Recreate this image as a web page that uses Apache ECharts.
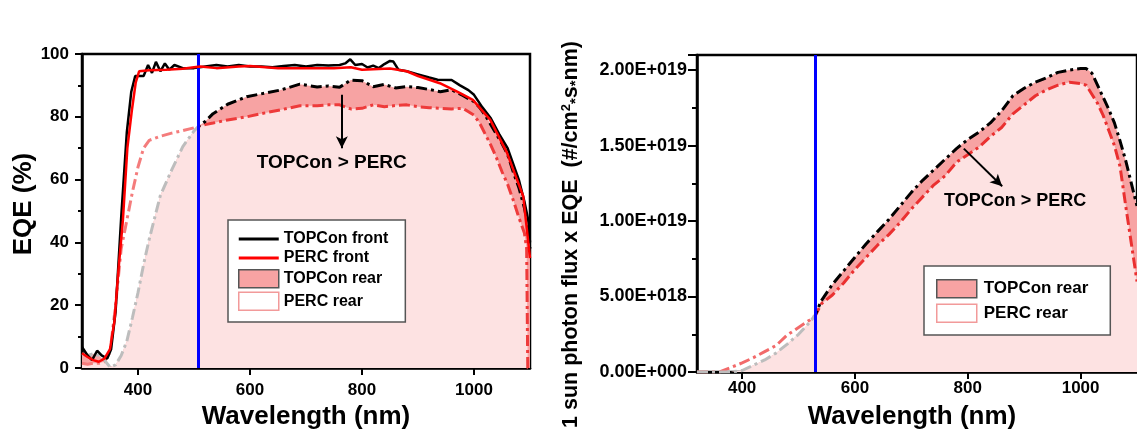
<!DOCTYPE html>
<html><head><meta charset="utf-8">
<script src="https://cdn.jsdelivr.net/npm/echarts@6/dist/echarts.min.js"></script>
<style>html,body{margin:0;padding:0;background:#fff}#c{width:1137px;height:435px}</style>
</head><body><div id="c"></div>
<script>
// ---------- Left panel: EQE (%) ----------
const wlTopconFront = [300,310,318,327,335,345,352,360,370,380,388,395,400,410,418,425,432,440,448,456,465,480,500,520,540,560,580,600,620,640,660,680,700,720,740,760,770,779,788,800,810,820,830,840,850,856,865,880,900,920,935,960,975,990,1000,1015,1030,1045,1060,1070,1080,1090,1097,1100];
const eqeTopconFront = [6.7,4,2.5,5.5,4,3,6,18,48,75,88,93,93,93,96.5,94,97.5,94.5,97,95,96.5,95.5,95.5,96,96.5,96,96.5,96,96,95.8,96.2,96.5,96,96.5,96.3,96.5,97,98.3,96.5,96.8,95.7,96.3,95.5,96.8,97.8,97.6,95,94.5,93.5,92.5,91.8,91.7,90,88.5,87,83,79.5,74.5,70,65,60,53,47,40];

const wlPercFront = [300,310,320,330,340,350,358,365,373,381,389,396,402,420,450,480,500,511,540,580,600,650,700,750,780,800,850,880,900,939,970,998,1029,1059,1088,1100];
const eqePercFront = [4.7,3.5,2.5,2,3,6,15,31,47,70,82,91,94.5,94.8,95,95.3,95.8,96,95.5,96,96.2,95.5,95.5,95.5,95.8,95,95.4,94.5,93,90.7,88,85.4,79,68.5,54.6,35];

const wlRearLeft = [300,310,320,330,340,350,360,370,380,390,400,410,420,440,460,480,500,508,520,534,560,594,620,654,689,720,740,760,780,800,820,840,860,880,900,920,940,960,980,1000,1010,1020,1030,1040,1050,1060,1070,1080,1090,1094,1096,1100];
const eqeTopconRear = [4.5,4,4.5,4,2.5,0.3,1,4,8.5,16,24,33,41,55,63,70.5,75.5,77,78.5,81,84,86.4,87.3,88.5,90.4,89.5,89.8,89.4,91.7,91.5,89.6,90.3,89.2,89.6,89.3,88.7,88,88.6,86.8,84.8,83,80.5,77.5,74.5,71.5,68,62.5,57.5,51,47.5,45,38];
const eqePercRear = [1.5,1.2,1.5,1.5,2,5,20,38,47,56,64,70,72.5,73.8,74.8,75.6,76.5,77,77.5,78,79,80,81,82.2,83.5,83.5,83.8,83.8,82.5,82.7,83.8,83.2,83.6,83.8,83.2,82.9,82.7,82.5,82.7,80.5,78,74.5,71,67,62.5,58.5,53.5,48,43,38,0,0];

// ---------- Right panel: photon flux x EQE (units of 1E+018) ----------
const wlRearRight = [320,340,360,380,400,420,440,460,480,500,520,530,540,560,580,600,620,640,660,680,700,720,740,760,780,800,820,840,860,880,900,920,940,960,980,1000,1010,1020,1030,1040,1050,1060,1070,1080,1090,1100];
const fluxTopconRear = [0,0,0,0,0.1,0.45,0.8,1.25,1.85,2.5,3.3,3.8,4.7,5.8,6.7,7.6,8.5,9.3,10.1,11.0,11.9,12.7,13.4,14.1,14.8,15.4,15.9,16.5,17.3,18.3,18.8,19.2,19.5,19.85,20.0,20.1,20.1,19.8,19.0,18.2,17.4,16.5,15.3,14.0,12.5,11.0];
const fluxPercRear = [0,0,0,0.3,0.6,0.95,1.35,1.75,2.45,2.95,3.45,3.75,4.5,5.1,5.9,6.8,7.6,8.4,9.1,9.9,10.8,11.6,12.4,13.0,13.9,14.4,14.9,15.6,16.2,17.1,17.7,18.3,18.7,19.0,19.2,19.1,19.0,18.4,17.8,17.0,16.0,15.0,13.6,11.0,8.5,6.0];

// ---------- Axis ticks, markers, annotations ----------
const xTicks = [400, 600, 800, 1000];
const yTicksRight = [0, 5, 10, 15, 20];
const blueLineLeft = 508;
const blueLineRight = 530;
const arrowLeft = [[764, 87], [764, 70]];
const noteLeft = [746, 65.3];
const arrowRight = [[793, 14.8], [861, 12.3]];
const noteRight = [884, 11.3];
const noteText = 'TOPCon > PERC';

const FONT = "'Liberation Sans', Arial, sans-serif";
const zip = (xs, ys) => xs.map((x, i) => [x, ys[i]]);
const minOf = (a, b) => a.map((v, i) => Math.min(v, b[i]));
const DASHDOT = [11, 4, 3, 4];
const DARK = '#f7a3a3', LIGHT = '#fde2e2';

function sci(v) {
  const x = v * 1e18;
  if (x === 0) return '0.00E+000';
  const e = Math.floor(Math.log10(x) + 1e-9);
  const m = x / Math.pow(10, e);
  return m.toFixed(2) + 'E+' + String(e).padStart(3, '0');
}

const axisLineStyle = { show: true, lineStyle: { color: '#000', width: 2.5 } };
const tickLbl = { fontSize: 17, fontWeight: 'bold', color: '#000', fontFamily: FONT };

function areaSeries(name, xi, data, color) {
  return { name, type: 'line', xAxisIndex: xi, yAxisIndex: xi, data, symbol: 'none', showSymbol: false,
    silent: true, lineStyle: { width: 0 }, areaStyle: { color, opacity: 1 }, itemStyle: { color }, z: 2 };
}
function dashSeries(name, xi, data) {
  return { name, type: 'line', xAxisIndex: xi, yAxisIndex: xi, data, symbol: 'none', showSymbol: false,
    silent: true, lineStyle: { width: 3, type: DASHDOT }, z: 3 };
}
function annot(blueX, arrow, note, fontSize) {
  return {
    markLine: { silent: true, symbol: ['none', 'none'], label: { show: false },
      data: [
        { xAxis: blueX, lineStyle: { color: '#0000ff', width: 3, type: 'solid' }, symbol: 'none' },
        [ { coord: arrow[0], symbol: 'none', lineStyle: { color: '#000', width: 2, type: 'solid' } },
          { coord: arrow[1], symbol: 'arrow', symbolSize: [9, 12] } ]
      ] },
    markPoint: { silent: true, symbol: 'circle', symbolSize: 1, itemStyle: { color: 'rgba(0,0,0,0)' },
      label: { show: true, position: 'inside', formatter: noteText, color: '#000', fontSize, fontWeight: 'bold', fontFamily: FONT },
      data: [{ coord: note }] }
  };
}

const series = [
  areaSeries('TOPCon rear', 0, zip(wlRearLeft, eqeTopconRear), DARK),              // 0
  areaSeries('minL', 0, zip(wlRearLeft, minOf(eqeTopconRear, eqePercRear)), LIGHT), // 1
  dashSeries('PERC rear', 0, zip(wlRearLeft, eqePercRear)),                         // 2
  dashSeries('TOPCon rear', 0, zip(wlRearLeft, eqeTopconRear)),                     // 3
  { name: 'TOPCon front', type: 'line', xAxisIndex: 0, yAxisIndex: 0, data: zip(wlTopconFront, eqeTopconFront),
    symbol: 'none', showSymbol: false, silent: true, lineStyle: { width: 2.5, color: '#000' }, itemStyle: { color: '#000' }, z: 4 }, // 4
  Object.assign({ name: 'PERC front', type: 'line', xAxisIndex: 0, yAxisIndex: 0, data: zip(wlPercFront, eqePercFront),
    symbol: 'none', showSymbol: false, silent: true, lineStyle: { width: 2.5, color: '#ff0000' }, itemStyle: { color: '#ff0000' }, z: 5 },
    annot(blueLineLeft, arrowLeft, noteLeft, 19)),                                   // 5
  areaSeries('TOPCon rear', 1, zip(wlRearRight, fluxTopconRear), DARK),             // 6
  areaSeries('minR', 1, zip(wlRearRight, minOf(fluxTopconRear, fluxPercRear)), LIGHT), // 7
  dashSeries('PERC rear', 1, zip(wlRearRight, fluxPercRear)),                        // 8
  dashSeries('TOPCon rear', 1, zip(wlRearRight, fluxTopconRear)),                    // 9
  Object.assign({ name: 'annotR', type: 'line', xAxisIndex: 1, yAxisIndex: 1, data: zip(wlRearRight, fluxPercRear),
    symbol: 'none', showSymbol: false, silent: true, lineStyle: { width: 0, opacity: 0 }, itemStyle: { color: '#000' }, z: 5 },
    annot(blueLineRight, arrowRight, noteRight, 18))                                 // 10
];

const legendBase = { orient: 'vertical', itemWidth: 40, itemHeight: 18, selectedMode: false,
  backgroundColor: '#fff', borderColor: '#555', borderWidth: 1.5, borderRadius: 0 };
const lineIcon = 'path://M0,0L40,0L40,3L0,3Z';
const rectTopcon = { name: 'TOPCon rear', icon: 'rect', itemStyle: { color: DARK, borderColor: '#555', borderWidth: 1.5 } };
const rectPerc = { name: 'PERC rear', icon: 'rect', itemStyle: { color: '#fff', borderColor: '#f29a9a', borderWidth: 1.5 } };

const xFmt = v => String(v);

const option = {
  animation: false,
  backgroundColor: '#fff',
  textStyle: { fontFamily: FONT },
  grid: [
    { left: 82, top: 54, width: 448, height: 314, show: true, borderColor: '#000', borderWidth: 2.5 },
    { left: 697, top: 55, width: 446.5, height: 320, show: true, borderColor: '#000', borderWidth: 2.5 }
  ],
  xAxis: [
    { type: 'value', gridIndex: 0, min: 300, max: 1100, axisLine: axisLineStyle,
      axisTick: { show: true, customValues: xTicks, length: 7, lineStyle: { width: 2, color: '#000' } },
      axisLabel: Object.assign({ customValues: xTicks, margin: 14, formatter: xFmt }, tickLbl), splitLine: { show: false },
      name: 'Wavelength (nm)', nameLocation: 'middle', nameGap: 33,
      nameTextStyle: { fontSize: 26, fontWeight: 'bold', color: '#000', fontFamily: FONT } },
    { type: 'value', gridIndex: 1, min: 320, max: 1100, axisLine: axisLineStyle,
      axisTick: { show: true, customValues: xTicks, length: 7, lineStyle: { width: 2, color: '#000' } },
      axisLabel: Object.assign({ customValues: xTicks, margin: 8, formatter: xFmt }, tickLbl), splitLine: { show: false },
      name: 'Wavelength (nm)', nameLocation: 'middle', nameGap: 32,
      nameTextStyle: { fontSize: 26, fontWeight: 'bold', color: '#000', fontFamily: FONT, padding: [0, 10, 0, 0] } }
  ],
  yAxis: [
    { type: 'value', gridIndex: 0, min: 0, max: 100, interval: 20, axisLine: axisLineStyle,
      axisTick: { show: true, length: 7, lineStyle: { width: 2, color: '#000' } },
      minorTick: { show: true, splitNumber: 2, length: 4, lineStyle: { width: 2, color: '#000' } },
      axisLabel: Object.assign({ margin: 13 }, tickLbl), splitLine: { show: false }, minorSplitLine: { show: false },
      name: 'EQE (%)', nameLocation: 'middle', nameGap: 38,
      nameTextStyle: { fontSize: 26, fontWeight: 'bold', color: '#000', fontFamily: FONT, padding: [0, 0, 0, 14] } },
    { type: 'value', gridIndex: 1, min: 0, max: 21, interval: 5, axisLine: axisLineStyle,
      axisTick: { show: true, length: 9, lineStyle: { width: 2, color: '#000' } },
      minorTick: { show: true, splitNumber: 2, length: 5, lineStyle: { width: 2, color: '#000' } },
      axisLabel: Object.assign({ customValues: yTicksRight, margin: 10, formatter: sci }, tickLbl, { fontSize: 18 }),
      splitLine: { show: false }, minorSplitLine: { show: false },
      name: '1 sun photon flux x EQE  (#/cm{sup|2}{sub|*}s{sub|*}nm)', nameLocation: 'middle', nameGap: 114,
      nameTextStyle: { fontSize: 21.5, fontWeight: 'bold', color: '#000', fontFamily: FONT, padding: [0, 42, 0, 0],
        rich: { sup: { fontSize: 13, fontWeight: 'bold', verticalAlign: 'top', color: '#000', fontFamily: FONT, padding: [0, 0, 10, 0] },
                sub: { fontSize: 15, fontWeight: 'bold', verticalAlign: 'bottom', color: '#000', fontFamily: FONT } } } }
  ],
  visualMap: [
    { type: 'piecewise', show: false, dimension: 0, seriesIndex: 3, pieces: [{ gte: 200, lt: blueLineLeft, color: '#bdbdbd' }, { gte: blueLineLeft, lte: 1200, color: '#000' }] },
    { type: 'piecewise', show: false, dimension: 0, seriesIndex: 2, pieces: [{ gte: 200, lt: blueLineLeft, color: '#f47c7c' }, { gte: blueLineLeft, lte: 1200, color: '#ee3b3b' }] },
    { type: 'piecewise', show: false, dimension: 0, seriesIndex: 9, pieces: [{ gte: 200, lt: blueLineRight, color: '#bdbdbd' }, { gte: blueLineRight, lte: 1200, color: '#000' }] },
    { type: 'piecewise', show: false, dimension: 0, seriesIndex: 8, pieces: [{ gte: 200, lt: blueLineRight, color: '#f26a6a' }, { gte: blueLineRight, lte: 1200, color: '#ea3030' }] }
  ],
  legend: [
    Object.assign({}, legendBase, { left: 228, top: 220, padding: [11, 17, 11, 10], itemGap: 3,
      textStyle: { fontSize: 16, fontWeight: 'bold', color: '#000', fontFamily: FONT },
      data: [{ name: 'TOPCon front', icon: lineIcon, itemStyle: { color: '#000' } },
             { name: 'PERC front', icon: lineIcon, itemStyle: { color: '#ff0000' } }, rectTopcon, rectPerc] }),
    Object.assign({}, legendBase, { left: 924, top: 266, padding: [13, 22, 12, 12], itemGap: 5,
      textStyle: { fontSize: 17, fontWeight: 'bold', color: '#000', fontFamily: FONT, padding: [0, 0, 0, 2] },
      data: [rectTopcon, rectPerc] })
  ],
  series
};

const chart = echarts.init(document.getElementById('c'), null, { renderer: 'canvas' });
chart.setOption(option);
</script></body></html>
